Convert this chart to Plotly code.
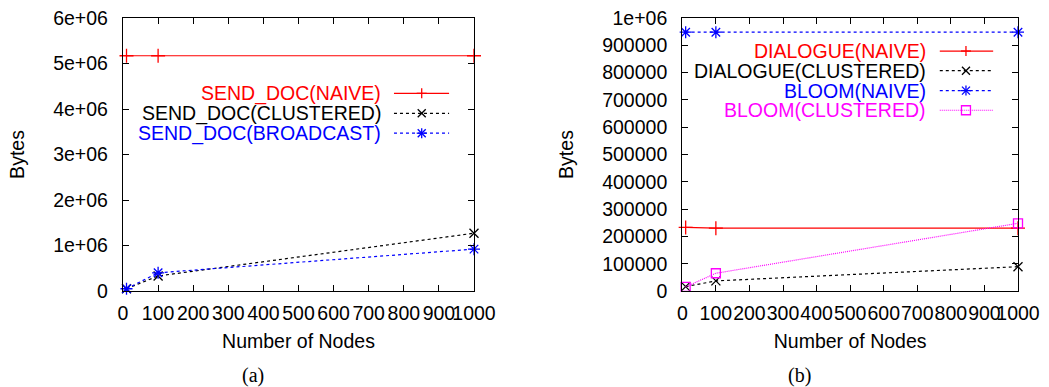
import plotly.graph_objects as go

# ---------------- data ----------------
nodes = [10, 100, 1000]

a_names = ["SEND_DOC(NAIVE)", "SEND_DOC(CLUSTERED)", "SEND_DOC(BROADCAST)"]
send_doc_naive = [5170000, 5170000, 5170000]
send_doc_clustered = [50000, 330000, 1270000]
send_doc_broadcast = [50000, 400000, 920000]

b_names = ["DIALOGUE(NAIVE)", "DIALOGUE(CLUSTERED)", "BLOOM(NAIVE)", "BLOOM(CLUSTERED)"]
dialogue_naive = [233000, 230000, 230000]
dialogue_clustered = [16000, 37000, 89000]
bloom_naive = [948000, 948000, 948000]
bloom_clustered = [15000, 65000, 248000]

x_ticks = [0, 100, 200, 300, 400, 500, 600, 700, 800, 900, 1000]
a_y_ticks = [0, 1e6, 2e6, 3e6, 4e6, 5e6, 6e6]
a_y_labels = ["0", "1e+06", "2e+06", "3e+06", "4e+06", "5e+06", "6e+06"]
b_y_ticks = [0, 100000, 200000, 300000, 400000, 500000, 600000, 700000, 800000, 900000, 1000000]
b_y_labels = ["0", "100000", "200000", "300000", "400000", "500000", "600000",
              "700000", "800000", "900000", "1e+06"]

# ---------------- styles ----------------
RED, BLACK, BLUE, MAGENTA = "#ff0000", "#000000", "#0000ff", "#ff00ff"
SANS = "Liberation Sans, Arial, sans-serif"
SERIF = "Liberation Serif, Times New Roman, serif"
FS = 19.5

a_series = [
    (a_names[0], send_doc_naive, RED, "solid", "cross-thin-open", 10, "+"),
    (a_names[1], send_doc_clustered, BLACK, "3px,3px", "x-thin-open", 9, "x"),
    (a_names[2], send_doc_broadcast, BLUE, "3px,3px", "asterisk-open", 10, "*"),
]
b_series = [
    (b_names[0], dialogue_naive, RED, "solid", "cross-thin-open", 10, "+"),
    (b_names[1], dialogue_clustered, BLACK, "3px,3px", "x-thin-open", 9, "x"),
    (b_names[2], bloom_naive, BLUE, "3px,3px", "asterisk-open", 10, "*"),
    (b_names[3], bloom_clustered, MAGENTA, "1px,1px", "square-open", 9, "s"),
]

W, H = 1049, 387
fig = go.Figure()

def add_series(series, xa, ya):
    for name, vals, col, dash, sym, size, _ in series:
        fig.add_trace(go.Scatter(
            x=nodes, y=vals, name=name, mode="lines+markers",
            xaxis=xa, yaxis=ya, showlegend=False, cliponaxis=False,
            line=dict(color=col, width=1.2, dash=dash),
            marker=dict(symbol=sym, size=size, color=col, line=dict(color=col, width=1.3)),
        ))

add_series(a_series, "x", "y")
add_series(b_series, "x2", "y2")

# custom gnuplot-style key: right-aligned text + line sample with marker
def marker_shapes(kind, xr, yr, cx, cy, col):
    segs = []
    if kind in ("+", "*"):
        segs += [(-5, 0, 5, 0), (0, -5, 0, 5)]
    if kind in ("x", "*"):
        segs += [(-4, -4, 4, 4), (-4, 4, 4, -4)]
    shapes = []
    for x0, y0, x1, y1 in segs:
        shapes.append(dict(type="line", xref=xr, yref=yr, xsizemode="pixel", ysizemode="pixel",
                           xanchor=cx, yanchor=cy, x0=x0, x1=x1, y0=y0, y1=y1,
                           line=dict(color=col, width=1.3)))
    if kind == "s":
        shapes.append(dict(type="rect", xref=xr, yref=yr, xsizemode="pixel", ysizemode="pixel",
                           xanchor=cx, yanchor=cy, x0=-4.5, x1=4.5, y0=-4.5, y1=4.5,
                           line=dict(color=col, width=1.3)))
    return shapes

def add_key(series, xr, yr, text_x, s0, s1, mx, rows):
    for (name, _, col, dash, _, _, kind), ry in zip(series, rows):
        fig.add_annotation(x=text_x, y=ry, xref=xr, yref=yr, text=name, showarrow=False,
                           xanchor="right", yanchor="middle", borderpad=0,
                           font=dict(family=SANS, size=FS, color=col))
        fig.add_shape(type="line", xref=xr, yref=yr, x0=s0, x1=s1, y0=ry, y1=ry,
                      line=dict(color=col, width=1.2, dash=dash))
        for s in marker_shapes(kind, xr, yr, mx, ry, col):
            fig.add_shape(**s)

add_key(a_series, "x domain", "y domain", 0.738, 0.772, 0.929, 0.851, [0.724, 0.651, 0.578])
add_key(b_series, "x2 domain", "y2 domain", 0.728, 0.767, 0.926, 0.845, [0.879, 0.807, 0.734, 0.662])

# ---------------- axes ----------------
ydom = [(H - 291) / H, (H - 18) / H]
xdom1 = [123 / W, 474 / W]
xdom2 = [682.3 / W, 1018 / W]

common_x = dict(range=[0, 1000], tickvals=x_ticks, tickangle=0, ticks="inside", ticklen=6,
                tickwidth=1.2, tickcolor="black", showline=True, linecolor="black", linewidth=1.3,
                mirror="ticks", showgrid=False, zeroline=False, automargin=False,
                tickfont=dict(family=SANS, size=FS, color="black"), ticklabelstandoff=4,
                title=dict(text="Number of Nodes", font=dict(family=SANS, size=FS, color="black"),
                           standoff=11))
common_y = dict(ticks="inside", ticklen=6, tickwidth=1.2, tickcolor="black",
                showline=True, linecolor="black", linewidth=1.3, mirror="ticks",
                showgrid=False, zeroline=False, automargin=False,
                tickfont=dict(family=SANS, size=FS, color="black"), ticklabelstandoff=10,
                title=dict(text="Bytes", font=dict(family=SANS, size=FS, color="black"),
                           standoff=23))

fig.update_layout(
    width=W, height=H, margin=dict(l=0, r=0, t=0, b=0),
    paper_bgcolor="white", plot_bgcolor="white", showlegend=False,
    xaxis=dict(domain=xdom1, anchor="y", **common_x),
    yaxis=dict(domain=ydom, anchor="x", range=[0, 6e6], tickvals=a_y_ticks, ticktext=a_y_labels,
               **common_y),
    xaxis2=dict(domain=xdom2, anchor="y2", **common_x),
    yaxis2=dict(domain=ydom, anchor="x2", range=[0, 1e6], tickvals=b_y_ticks, ticktext=b_y_labels,
                **common_y),
)

for lab, xr, cx in (("(a)", "x domain", 0.3695), ("(b)", "x2 domain", 0.3485)):
    fig.add_annotation(text=lab, x=cx, xref=xr, y=12 / H, yref="paper",
                       showarrow=False, xanchor="center", yanchor="middle",
                       font=dict(family=SERIF, size=20, color="black"))

fig.write_html("out.html", config={"displayModeBar": False},
               post_script="document.body.style.margin='0';")
